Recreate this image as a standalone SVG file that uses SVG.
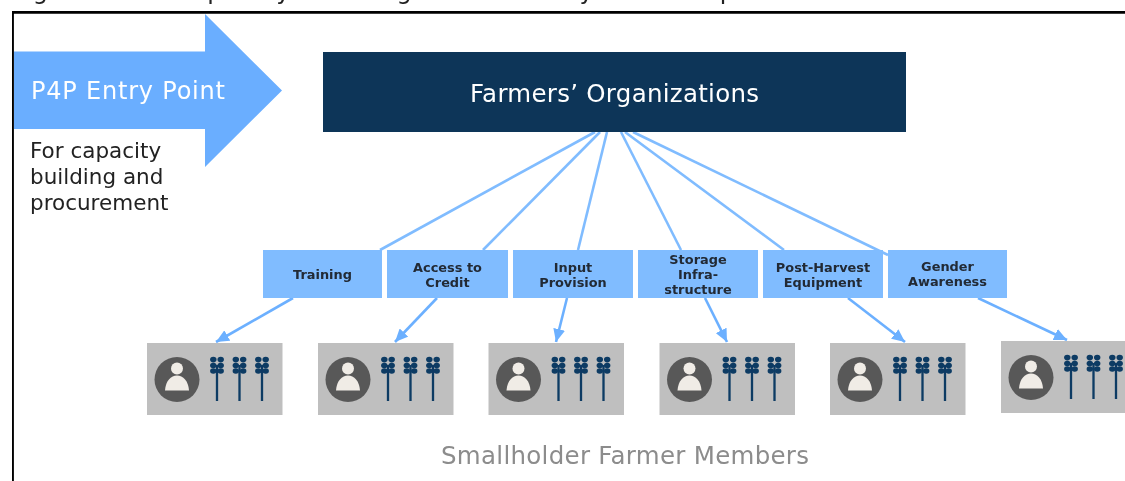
<svg xmlns="http://www.w3.org/2000/svg" width="1125" height="481" viewBox="0 0 1125 481">
<style>
text{font-family:"DejaVu Sans",Verdana,sans-serif}
.lab{font-size:12.9px;font-weight:bold;fill:#222a35;text-anchor:middle}
.box{fill:#80bcff}
.gray{fill:#bfbfbf}
.line{stroke:#80bcff;stroke-width:2.600;fill:none}
.arr{stroke:#6cb0ff;stroke-width:2.600;fill:none;marker-end:url(#ah)}
.side{font-size:21.500px;fill:#222}
.cap{font-size:24px;fill:#222}
</style>
<defs>
<filter id="soft" x="0" y="0" width="100%" height="100%"><feGaussianBlur stdDeviation="0.35"/></filter>
<marker id="ah" markerWidth="13" markerHeight="12" refX="13" refY="6" orient="auto" markerUnits="userSpaceOnUse" viewBox="0 0 13 12"><path d="M0 0L13 6L0 12Z" fill="#6cb0ff"/></marker>
<g id="wheat">
<path d="M0 8V44" stroke="#0b3a64" stroke-width="2.300" fill="none"/>
<g fill="#0b3a64">
<ellipse cx="-3.700" cy="2.600" rx="3.200" ry="2.800"/><ellipse cx="3.700" cy="2.600" rx="3.200" ry="2.800"/>
<ellipse cx="-3.700" cy="8.500" rx="3.200" ry="2.800"/><ellipse cx="3.700" cy="8.500" rx="3.200" ry="2.800"/>
<ellipse cx="-3.700" cy="14" rx="3.200" ry="2.800"/><ellipse cx="3.700" cy="14" rx="3.200" ry="2.800"/>
</g>
</g>
<g id="farmer">
<rect class="gray" width="135.500" height="72"/>
<circle cx="30" cy="36.500" r="22.500" fill="#595959"/>
<circle cx="30" cy="25.500" r="6" fill="#f0ece6"/>
<path d="M18 47.500C18.500 38 24 32.500 30 32.500S41.500 38 42 47.500Z" fill="#f0ece6"/>
<use href="#wheat" x="70" y="14"/>
<use href="#wheat" x="92.500" y="14"/>
<use href="#wheat" x="115" y="14"/>
</g>
</defs>
<rect width="1125" height="481" fill="#fff"/>
<g filter="url(#soft)">
<g id="caption">
<text class="cap" x="14" y="-1">Figure 3.</text>
<text class="cap" x="172" y="-1" textLength="663" lengthAdjust="spacing">Capacity building and delivery with FO partners</text>
</g>
<path id="frame" d="M12.500 481V12.300H1125" stroke="#000" stroke-width="2.800" fill="none"/>
<g id="entry">
<path d="M14 51.500H205V14L282 90.500L205 167V129H14Z" fill="#6aaeff"/>
<text x="31" y="99" font-size="24" fill="#fff" textLength="194" lengthAdjust="spacing">P4P Entry Point</text>
<text class="side" x="30" y="158">For capacity</text>
<text class="side" x="30" y="184">building and</text>
<text class="side" x="30" y="210">procurement</text>
</g>
<g id="connectors">
<path class="line" d="M595 132L380 250"/>
<path class="line" d="M600 132L483 250"/>
<path class="line" d="M607 132L578 250"/>
<path class="line" d="M621 132L681 250"/>
<path class="line" d="M625 132L784 250"/>
<path class="line" d="M633 132L888 255"/>
<path class="arr" d="M293 298L216 342"/>
<path class="arr" d="M437 298L395 342"/>
<path class="arr" d="M567 298L556 342"/>
<path class="arr" d="M705 298L727 342"/>
<path class="arr" d="M848 298L905 342"/>
<path class="arr" d="M978 298L1067 340"/>
</g>
<g id="fo"><rect x="323" y="52" width="583" height="80" fill="#0b3558"/>
<text x="470" y="102" font-size="24.500" fill="#fff" textLength="289" lengthAdjust="spacing">Farmers’ Organizations</text></g>
<g id="n-training"><rect class="box" x="263" y="250" width="119" height="48"/><text class="lab" x="322.500" y="278.500">Training</text></g>
<g id="n-credit"><rect class="box" x="387" y="250" width="121" height="48"/><text class="lab" x="447.500" y="272">Access to</text><text class="lab" x="447.500" y="287">Credit</text></g>
<g id="n-input"><rect class="box" x="513" y="250" width="120" height="48"/><text class="lab" x="573" y="272">Input</text><text class="lab" x="573" y="287">Provision</text></g>
<g id="n-storage"><rect class="box" x="638" y="250" width="120" height="48"/><text class="lab" x="698" y="264">Storage</text><text class="lab" x="698" y="279">Infra-</text><text class="lab" x="698" y="294">structure</text></g>
<g id="n-post"><rect class="box" x="763" y="250" width="120" height="48"/><text class="lab" x="823" y="272">Post-Harvest</text><text class="lab" x="823" y="287">Equipment</text></g>
<g id="n-gender"><rect class="box" x="888" y="250" width="119" height="48"/><text class="lab" x="947.500" y="271">Gender</text><text class="lab" x="947.500" y="286">Awareness</text></g>
<g id="f1"><use href="#farmer" x="147" y="343"/></g>
<g id="f2"><use href="#farmer" x="318" y="343"/></g>
<g id="f3"><use href="#farmer" x="488.500" y="343"/></g>
<g id="f4"><use href="#farmer" x="659.500" y="343"/></g>
<g id="f5"><use href="#farmer" x="830" y="343"/></g>
<g id="f6"><use href="#farmer" x="1001" y="341"/></g>
<text id="members" x="441" y="464" font-size="24.500" fill="#8c8c8c" textLength="368" lengthAdjust="spacing">Smallholder Farmer Members</text>
</g>
</svg>
